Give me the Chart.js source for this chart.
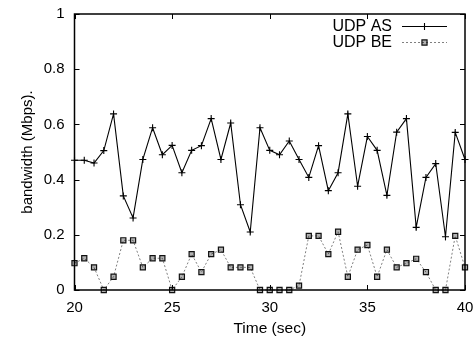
<!DOCTYPE html>
<html>
<head>
<meta charset="utf-8">
<script src="https://cdn.jsdelivr.net/npm/chart.js@4/dist/chart.umd.min.js"></script>
<style>
  html, body { margin: 0; padding: 0; background: #fff; }
  #wrap { width: 474px; height: 342px; }
</style>
</head>
<body>
<div id="wrap"><canvas id="c" width="474" height="342"></canvas></div>
<script>
// ---- data ----
const timeSec = [20, 20.5, 21, 21.5, 22, 22.5, 23, 23.5, 24, 24.5,
                 25, 25.5, 26, 26.5, 27, 27.5, 28, 28.5, 29, 29.5,
                 30, 30.5, 31, 31.5, 32, 32.5, 33, 33.5, 34, 34.5,
                 35, 35.5, 36, 36.5, 37, 37.5, 38, 38.5, 39, 39.5, 40];
const udpAS = [0.47, 0.47, 0.46, 0.505, 0.638, 0.341, 0.261, 0.473, 0.588, 0.49,
               0.524, 0.425, 0.506, 0.523, 0.621, 0.473, 0.605, 0.309, 0.21, 0.588,
               0.506, 0.49, 0.54, 0.473, 0.408, 0.523, 0.36, 0.425, 0.638, 0.376,
               0.556, 0.506, 0.343, 0.572, 0.621, 0.227, 0.408, 0.458, 0.193, 0.571, 0.473];
const udpBE = [0.097, 0.115, 0.082, 0, 0.048, 0.18, 0.18, 0.082, 0.115, 0.115,
               0, 0.048, 0.13, 0.065, 0.13, 0.146, 0.082, 0.082, 0.082, 0,
               0, 0, 0, 0.016, 0.196, 0.196, 0.13, 0.211, 0.048, 0.146,
               0.163, 0.048, 0.146, 0.082, 0.097, 0.113, 0.065, 0, 0, 0.196, 0.082];
const seriesNames = ['UDP AS', 'UDP BE'];
const xTicks = [20, 25, 30, 35, 40];
const yTicks = [0, 0.2, 0.4, 0.6, 0.8, 1];
const xTitle = 'Time (sec)';
const yTitle = 'bandwidth (Mbps).';

const FONT = "'Liberation Sans', Arial, Helvetica, sans-serif";

const toPoints = (vals) => vals.map((v, i) => ({ x: timeSec[i], y: v }));

const framePlugin = {
  id: 'frame',
  afterDatasetsDraw(chart) {
    const { ctx, chartArea: a, scales } = chart;
    const xs = scales.x, ys = scales.y;
    const TL = 5;
    ctx.save();
    ctx.strokeStyle = '#000';
    ctx.lineWidth = 1.5;
    ctx.strokeRect(a.left, a.top, a.right - a.left, a.bottom - a.top);
    ctx.lineWidth = 1;
    ctx.beginPath();
    xTicks.forEach(v => {
      const px = Math.round(xs.getPixelForValue(v)) + 0.5;
      ctx.moveTo(px, a.bottom); ctx.lineTo(px, a.bottom - TL);
      ctx.moveTo(px, a.top); ctx.lineTo(px, a.top + TL);
    });
    yTicks.forEach(v => {
      const py = Math.round(ys.getPixelForValue(v)) + 0.5;
      ctx.moveTo(a.left, py); ctx.lineTo(a.left + TL, py);
      ctx.moveTo(a.right, py); ctx.lineTo(a.right - TL, py);
    });
    ctx.stroke();

    // key (legend) inside the plot, upper right
    const rows = [26.5, 42.5];
    const textRight = 392, lineL = 402, lineR = 447;
    ctx.font = "16px " + FONT;
    ctx.textAlign = 'right';
    ctx.textBaseline = 'middle';
    chart.data.datasets.forEach((ds, i) => {
      const y = rows[i];
      ctx.fillStyle = '#000';
      ctx.fillText(ds.label, textRight, y + 0.5);
      ctx.save();
      ctx.strokeStyle = ds.borderColor;
      ctx.lineWidth = ds.borderWidth;
      ctx.setLineDash(ds.borderDash || []);
      ctx.beginPath();
      ctx.moveTo(lineL, y); ctx.lineTo(lineR, y);
      ctx.stroke();
      ctx.setLineDash([]);
      ctx.fillStyle = ds.pointBackgroundColor;
      ctx.strokeStyle = ds.pointBorderColor;
      ctx.lineWidth = ds.pointBorderWidth;
      Chart.helpers.drawPoint(ctx, {
        pointStyle: ds.pointStyle, radius: ds.pointRadius, rotation: 0,
        borderWidth: ds.pointBorderWidth
      }, (lineL + lineR) / 2, y);
      ctx.restore();
    });
    ctx.restore();
  }
};

new Chart(document.getElementById('c'), {
  type: 'line',
  data: {
    datasets: [
      {
        label: seriesNames[0],
        data: toPoints(udpAS),
        borderColor: '#000',
        borderWidth: 1.1,
        pointStyle: 'cross',
        pointRadius: 3.5,
        pointBorderWidth: 1.1,
        pointBorderColor: '#000',
        pointBackgroundColor: '#000',
        tension: 0,
        clip: false
      },
      {
        label: seriesNames[1],
        data: toPoints(udpBE),
        borderColor: '#808080',
        borderWidth: 1,
        borderDash: [2, 2],
        pointStyle: 'rect',
        pointRadius: 3.6,
        pointBorderWidth: 1.2,
        pointBorderColor: '#111',
        pointBackgroundColor: 'rgba(0,0,0,0.3)',
        tension: 0,
        clip: false
      }
    ]
  },
  options: {
    responsive: false,
    devicePixelRatio: 1,
    animation: false,
    layout: { padding: { left: 0, top: 14, right: 9, bottom: 0 } },
    plugins: { legend: { display: false }, tooltip: { enabled: false } },
    scales: {
      x: {
        type: 'linear',
        min: 20, max: 40,
        afterFit(s) { s.height = 52; s.paddingLeft = 0; s.paddingRight = 0; },
        afterBuildTicks(s) { s.ticks = xTicks.map(v => ({ value: v })); },
        grid: { display: false, drawTicks: false },
        border: { display: false },
        ticks: { color: '#000', padding: 9, font: { family: FONT, size: 15 }, maxRotation: 0 },
        title: { display: true, text: xTitle, color: '#000', font: { family: FONT, size: 15.5 }, padding: { top: 0, bottom: 4 } }
      },
      y: {
        min: 0, max: 1,
        afterFit(s) { s.width = 74.5; s.paddingTop = 0; s.paddingBottom = 0; },
        afterBuildTicks(s) { s.ticks = yTicks.map(v => ({ value: v })); },
        grid: { display: false, drawTicks: false },
        border: { display: false },
        ticks: { color: '#000', padding: 10, font: { family: FONT, size: 15 }, callback: v => String(v) },
        title: { display: true, text: yTitle, color: '#000', font: { family: FONT, size: 15 }, padding: { top: 19, bottom: 0 } }
      }
    }
  },
  plugins: [framePlugin]
});
</script>
</body>
</html>
